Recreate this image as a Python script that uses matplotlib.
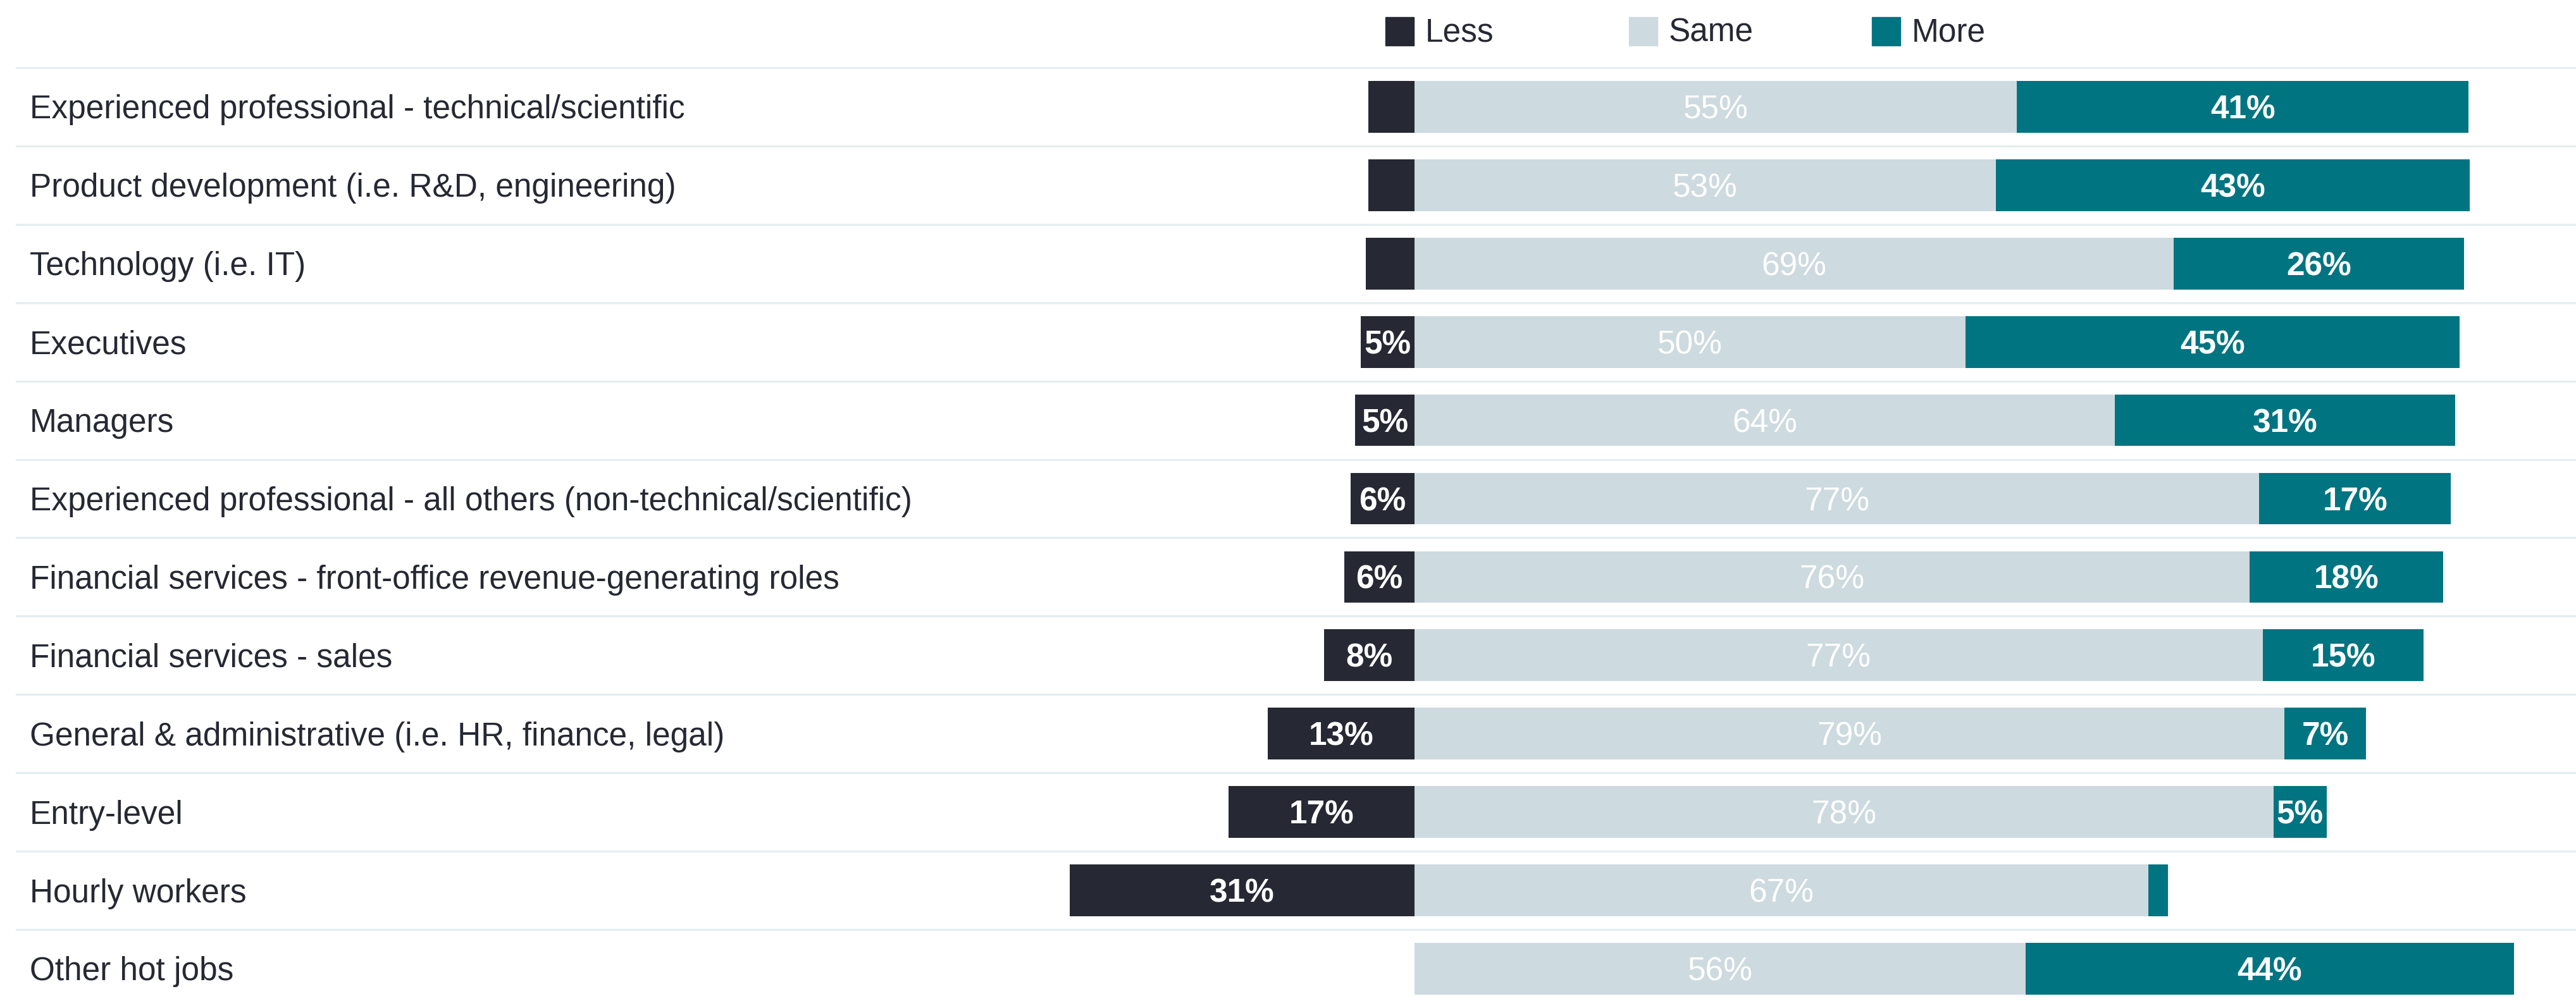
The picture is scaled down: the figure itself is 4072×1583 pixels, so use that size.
import matplotlib
matplotlib.use("Agg")
import matplotlib.pyplot as plt
from matplotlib.patches import Rectangle

plt.rcParams['font.family'] = ['Liberation Sans', 'DejaVu Sans']

categories = [
    "Experienced professional - technical/scientific",
    "Product development (i.e. R&D, engineering)",
    "Technology (i.e. IT)",
    "Executives",
    "Managers",
    "Experienced professional - all others (non-technical/scientific)",
    "Financial services - front-office revenue-generating roles",
    "Financial services - sales",
    "General & administrative (i.e. HR, finance, legal)",
    "Entry-level",
    "Hourly workers",
    "Other hot jobs",
]
less = [4.2, 4.2, 4.4, 4.9, 5.4, 5.8, 6.4, 8.2, 13.3, 16.9, 31.3, 0]
same = [54.7, 52.8, 68.9, 50.0, 63.6, 76.7, 75.8, 77.0, 79.0, 78.0, 66.6, 55.5]
more = [41.0, 43.0, 26.4, 44.9, 30.9, 17.4, 17.6, 14.6, 7.4, 4.8, 1.8, 44.3]
series_names = ["Less", "Same", "More"]

C_LESS = '#262833'
C_SAME = '#cddadf'
C_MORE = '#007481'
C_TEXT = '#262833'
C_GRID = '#e3edef'

W, H = 4072, 1583
fig = plt.figure(figsize=(W / 100, H / 100), dpi=100)
ax = fig.add_axes([0, 0, 1, 1])

# pixel mapping: zero line at x=2236 px, 17.41 px per percent; rows 123.9 px apart
zero_px, px_per = 2236, 17.41
row0_px, row_step = 169, 123.9
ax.set_xlim(-zero_px / px_per, (W - zero_px) / px_per)
ax.set_ylim((H - row0_px) / row_step, -row0_px / row_step)
ax.axis('off')

y = list(range(len(categories)))
bh = 0.66
fs = 37
dy = 18.5 / row_step  # put cap centre on the bar centre
min_lab = 4.7

# row separators
for i in y:
    ax.plot([26 / W, 1], [i - 0.5, i - 0.5], color=C_GRID, lw=2.2,
            transform=ax.get_yaxis_transform(), zorder=0)

ax.barh(y, [-v for v in less], height=bh, color=C_LESS, zorder=2)
ax.barh(y, same, height=bh, color=C_SAME, zorder=2)
ax.barh(y, more, left=same, height=bh, color=C_MORE, zorder=2)

for i in y:
    ax.text(47 / W, i + dy, categories[i], transform=ax.get_yaxis_transform(),
            ha='left', va='baseline', fontsize=fs, color=C_TEXT)
    if less[i] >= min_lab:
        ax.text(-less[i] / 2, i + dy, f"{less[i]:.0f}%", ha='center',
                va='baseline', fontsize=fs, color='white',
                fontweight='bold', zorder=3)
    if same[i] >= min_lab:
        ax.text(same[i] / 2, i + dy, f"{same[i]:.0f}%", ha='center',
                va='baseline', fontsize=fs, color='white', zorder=3)
    if more[i] >= min_lab:
        ax.text(same[i] + more[i] / 2, i + dy, f"{more[i]:.0f}%", ha='center',
                va='baseline', fontsize=fs, color='white', fontweight='bold',
                zorder=3)

# legend
leg_colors = [C_LESS, C_SAME, C_MORE]
for k, (name, col) in enumerate(zip(series_names, leg_colors)):
    x0 = 2190 + k * 384.5
    fig.patches.append(Rectangle((x0 / W, 1 - 72 / H), 45 / W, 45 / H,
                                 transform=fig.transFigure, color=col))
    fig.text((x0 + 63) / W, 1 - 65 / H, name, ha='left', va='baseline',
             fontsize=fs, color=C_TEXT)

fig.savefig('out.png', dpi=100)
